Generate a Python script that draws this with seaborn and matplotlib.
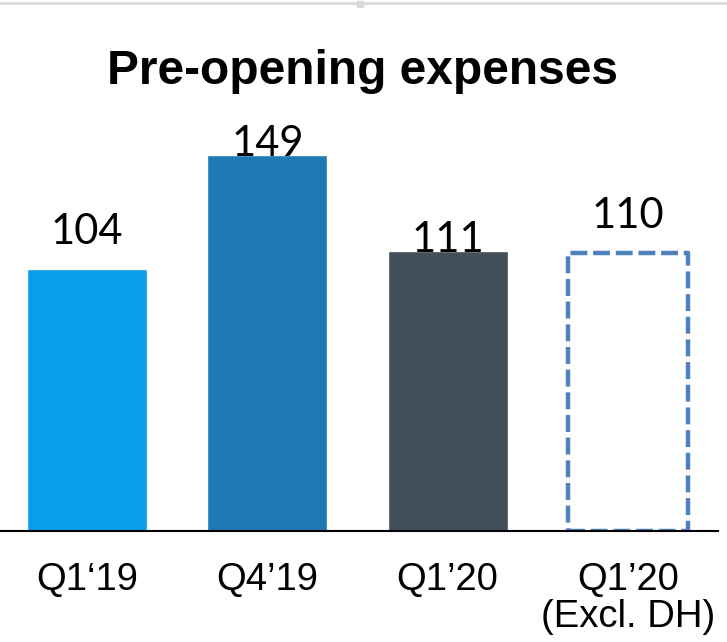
import matplotlib
matplotlib.use("Agg")
import matplotlib.pyplot as plt
import seaborn as sns
import pandas as pd
from matplotlib.lines import Line2D

# data
categories = ["Q1\u201819", "Q4\u201919", "Q1\u201920", "Q1\u201920\n(Excl. DH)"]
values = [104, 149, 111, 110]
bar_colors = ["#069FE8", "#1F7AB4", "#424E5A", "#4F81BD"]
title = "Pre-opening expenses"

sns.set_theme(style="white")
plt.rcParams["font.family"] = ["Liberation Sans", "DejaVu Sans"]

df = pd.DataFrame({"quarter": categories, "value": values})

fig = plt.figure(figsize=(7.27, 6.42), dpi=100)
# axes: left edge at x=0, right 718px, bottom at 531px, top at 100px
ax = fig.add_axes([0, (642 - 531) / 642, 718 / 727, (531 - 100) / 642])

sns.barplot(data=df, x="quarter", y="value", hue="quarter", palette=bar_colors,
            width=0.666, saturation=1, legend=False, ax=ax)

# last bar is shown as a dashed outline only
last = ax.patches[-1]
last.set_facecolor("none")
last.set_edgecolor(bar_colors[-1])
last.set_linewidth(3.2)
last.set_linestyle((0, (3.8, 1.3)))
last.set_joinstyle("round")

ax.set_xlim(-0.4825, 3.499)
ax.set_ylim(0, 170.8)
ax.set_xlabel("")
ax.set_ylabel("")
ax.set_yticks([])
for side in ["top", "right", "left"]:
    ax.spines[side].set_visible(False)
ax.spines["bottom"].set_color("black")
ax.spines["bottom"].set_linewidth(1.5)
ax.spines["bottom"].set_zorder(5)

ax.tick_params(axis="x", length=0, pad=22, labelsize=27.5, colors="black")
for lbl in ax.get_xticklabels():
    lbl.set_linespacing(1.05)

# value labels (points above the bar top)
offsets = [18, -1, -1, 18]
for i, v in enumerate(values):
    ax.annotate(str(v), (i, v), xytext=(0, offsets[i]), textcoords="offset points",
                ha="center", va="baseline", fontsize=30,
                family=["Lato", "DejaVu Sans"], color="black", zorder=6)

fig.text(0.498, 0.888, title, ha="center", va="center", fontsize=34.5,
         fontweight="bold", color="black")

# thin grey rule along the top edge
fig.add_artist(Line2D([0, 1], [0.996, 0.996], transform=fig.transFigure,
                      color="#d9d9d9", linewidth=2))
fig.add_artist(Line2D([0.495], [0.993], transform=fig.transFigure, marker="s",
                      markersize=5, color="#d9d9d9", linestyle="none"))

fig.savefig("out.png", dpi=100)
